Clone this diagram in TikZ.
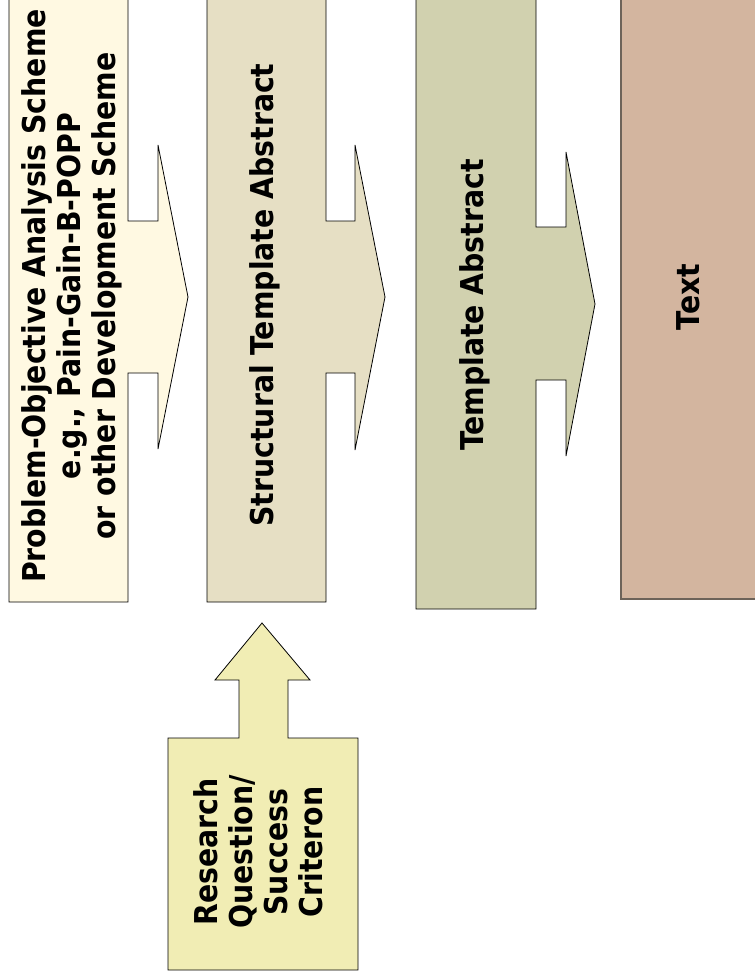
\documentclass[tikz,border=0pt]{standalone}
\usepackage{fontspec}
\setmainfont{DejaVu Sans Condensed}
\definecolor{cA}{HTML}{FFF9E2}
\definecolor{cB}{HTML}{E6DFC4}
\definecolor{cC}{HTML}{D1D1AF}
\definecolor{cD}{HTML}{D3B59F}
\definecolor{cE}{HTML}{F1EDB4}
\definecolor{cBorder}{HTML}{6D6359}
\tikzset{
  shapeline/.style={draw=black, line width=0.8pt, line join=miter},
  lbl/.style={rotate=90, align=center, font=\bfseries\fontsize{31.5}{35}\selectfont, inner sep=0pt}
}
\begin{document}
\begin{tikzpicture}[x=1pt,y=1pt]
\useasboundingbox (0,0) rectangle (755,-980);
% Box 1 with arrow
\path[shapeline, fill=cA] (128,-221) -- (158,-221) -- (158,-145) -- (188,-297) -- (158,-449) -- (158,-373) -- (128,-373) -- (128,-602) -- (9,-602) -- (9,5) -- (128,5) -- cycle;
% Box 2 with arrow
\path[shapeline, fill=cB] (326,-221) -- (355,-221) -- (355,-145) -- (385,-297) -- (355,-450) -- (355,-373) -- (326,-373) -- (326,-602) -- (207,-602) -- (207,5) -- (326,5) -- cycle;
% Box 3 with arrow
\path[shapeline, fill=cC] (536,-227) -- (566,-227) -- (566,-152) -- (595,-304) -- (566,-456) -- (566,-380) -- (536,-380) -- (536,-609) -- (416,-609) -- (416,5) -- (536,5) -- cycle;
% Text box
\path[draw=cBorder, line width=1.5pt, fill=cD] (621,5) -- (621,-599) -- (765,-599) -- (765,5) -- cycle;
% Research box with up arrow
\path[shapeline, fill=cE] (239,-738) -- (239,-680) -- (215,-680) -- (262,-623) -- (310,-680) -- (288,-680) -- (288,-738) -- (358,-738) -- (358,-970) -- (168,-970) -- (168,-738) -- cycle;
% labels
\node[lbl] (t1) at (72,-296) {Problem-Objective Analysis Scheme\\e.g., Pain-Gain-B-POPP\\or other Development Scheme};
\node[lbl] (t2) at (265,-295) {Structural Template Abstract};
\node[lbl] (t3) at (475,-305) {Template Abstract};
\node[lbl] (t4) at (688,-297) {Text};
\node[lbl] (t5) at (258,-852) {Research\\Question/\\Success\\Criteron};
\end{tikzpicture}
\end{document}
